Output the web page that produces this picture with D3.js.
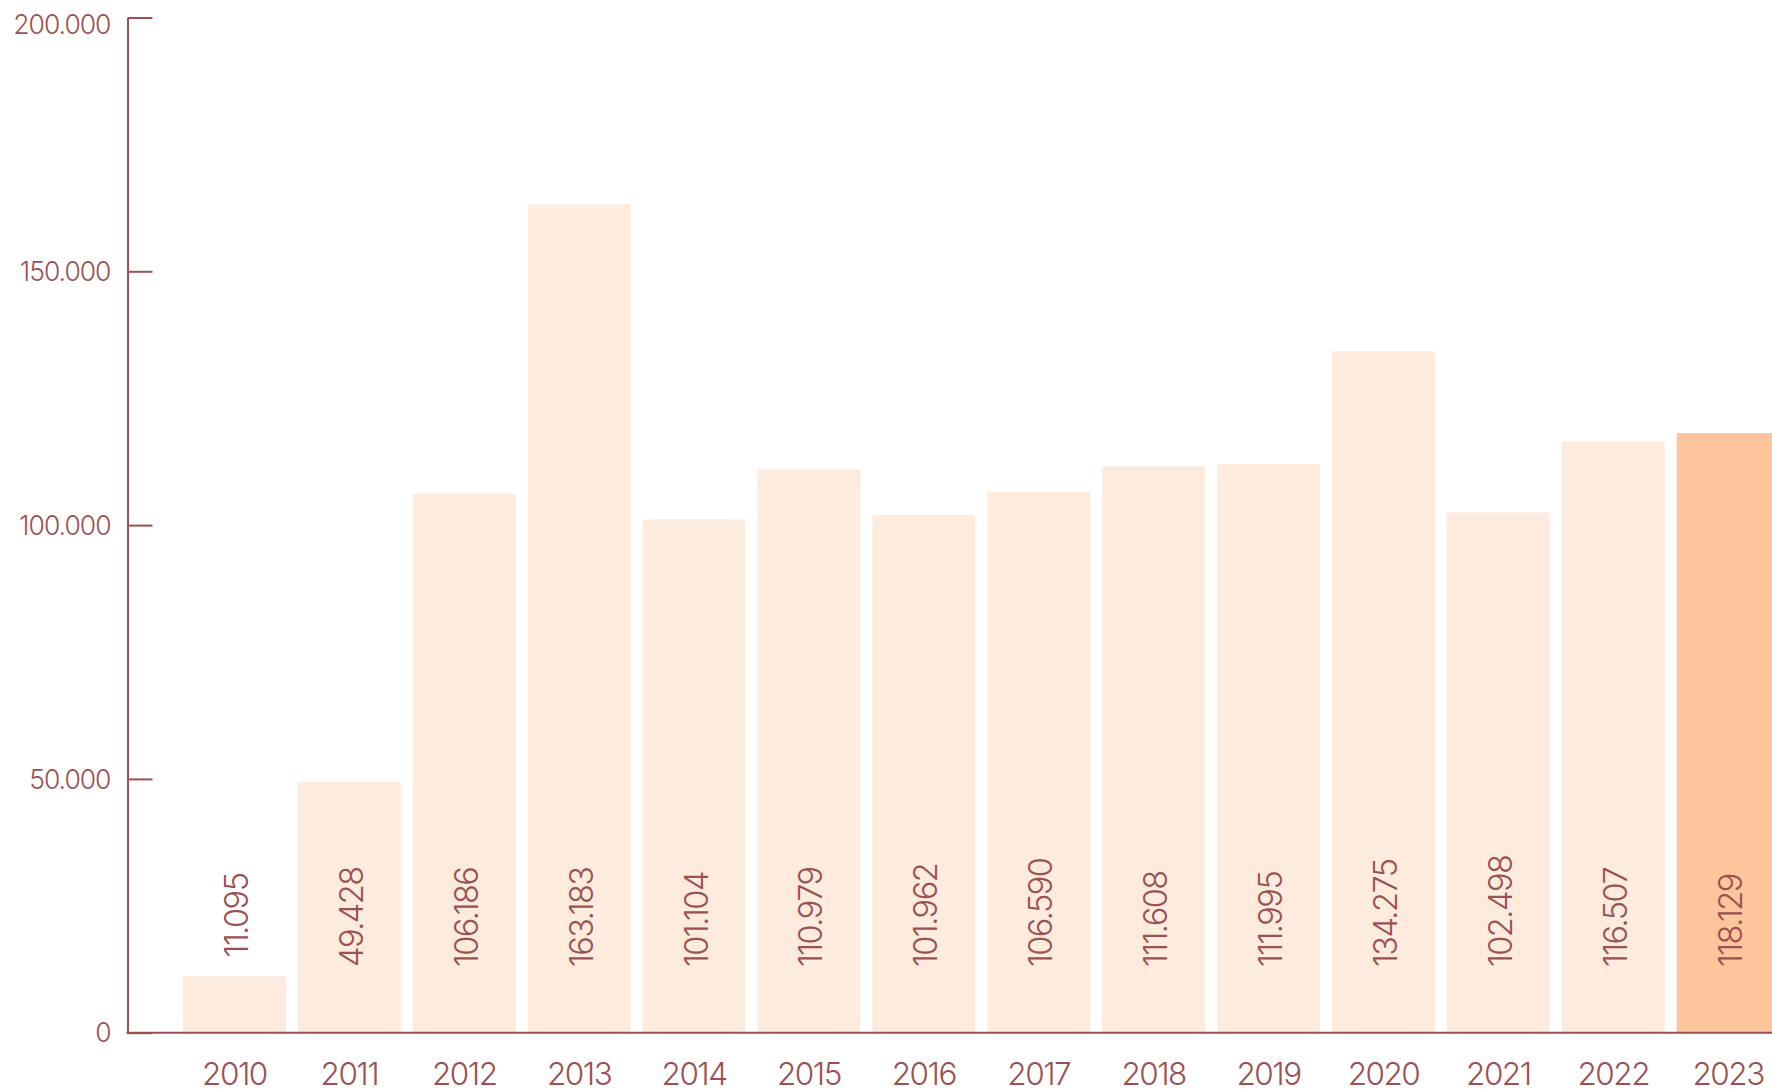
<!DOCTYPE html>
<html>
<head>
<meta charset="utf-8">
<script src="https://cdn.jsdelivr.net/npm/d3@7"></script>
<style>
  html, body { margin: 0; padding: 0; background: #ffffff; }
  svg { display: block; }
  text { font-family: Inter, "Noto Sans", sans-serif; font-weight: 300; fill: #9c5151; }
</style>
</head>
<body>
<svg id="chart" width="1772" height="1089"></svg>
<script>
const years = ["2010","2011","2012","2013","2014","2015","2016","2017","2018","2019","2020","2021","2022","2023"];
const values = [11095, 49428, 106186, 163183, 101104, 110979, 101962, 106590, 111608, 111995, 134275, 102498, 116507, 118129];
const valueLabels = ["11.095","49.428","106.186","163.183","101.104","110.979","101.962","106.590","111.608","111.995","134.275","102.498","116.507","118.129"];
const yTicks = [0, 50000, 100000, 150000, 200000];
const yTickLabels = ["0","50.000","100.000","150.000","200.000"];
const highlightYear = "2023";

const W = 1772, H = 1089;
const axisColor = "#9c5151";
const svg = d3.select("#chart");

const y0 = 1032.7, yTop = 17.5, axisX = 127.5;
const y = d3.scaleLinear().domain([0, 200000]).range([y0, yTop]);

const step = 114.9, padIn = 12 / 114.9, firstX = 183;
const x = d3.scaleBand().domain(years)
  .range([firstX, firstX + step * (years.length - padIn)])
  .paddingInner(padIn).paddingOuter(0);

// bars
svg.append("g").selectAll("rect").data(years).join("rect")
  .attr("x", d => x(d))
  .attr("y", (d, i) => y(values[i]))
  .attr("width", x.bandwidth())
  .attr("height", (d, i) => y0 - y(values[i]))
  .attr("fill", d => d === highlightYear ? "#fcc59b" : "#fdecde");

// value labels (rotated); inside the bar near its base, or above a short bar
const labelBase = 967;
svg.append("g").selectAll("text").data(years).join("text")
  .attr("transform", (d, i) => {
    const cx = x(d) + x.bandwidth() / 2 + 13.5;
    const top = y(values[i]);
    const cy = top < 860 ? labelBase : top - 19;
    return `translate(${cx},${cy}) rotate(-90)`;
  })
  .attr("text-anchor", "start")
  .style("font-size", "32.5px")
  .style("letter-spacing", "-1.5px")
  .text((d, i) => valueLabels[i]);

// y axis
const yAxis = d3.axisLeft(y).tickValues(yTicks)
  .tickFormat((d, i) => yTickLabels[i])
  .tickSizeInner(-25).tickSizeOuter(0).tickPadding(17);
const gy = svg.append("g").attr("transform", `translate(${axisX},0)`).call(yAxis);
gy.select(".domain").attr("stroke", axisColor).attr("stroke-width", 2);
gy.selectAll(".tick line").attr("stroke", axisColor).attr("stroke-width", 2);
gy.selectAll(".tick text")
  .attr("fill", axisColor)
  .style("font-family", "Inter, 'Noto Sans', sans-serif")
  .style("font-weight", 300)
  .style("font-size", "26.5px")
  .style("letter-spacing", "-1px")
  .attr("dy", d => d === 200000 ? "0.61em" : "0.35em");

// x axis line
svg.append("line")
  .attr("x1", axisX - 1).attr("x2", W)
  .attr("y1", y0).attr("y2", y0)
  .attr("stroke", axisColor).attr("stroke-width", 2);

// x axis labels
const xAxis = d3.axisBottom(x).tickSize(0).tickPadding(0);
const gx = svg.append("g").attr("transform", `translate(0,${y0})`).call(xAxis);
gx.select(".domain").remove();
gx.selectAll(".tick text")
  .attr("y", 52.5).attr("dy", "0")
  .attr("fill", axisColor)
  .style("font-family", "Inter, 'Noto Sans', sans-serif")
  .style("font-weight", 300)
  .style("font-size", "31.5px")
  .style("letter-spacing", "-1.5px");
</script>
</body>
</html>
